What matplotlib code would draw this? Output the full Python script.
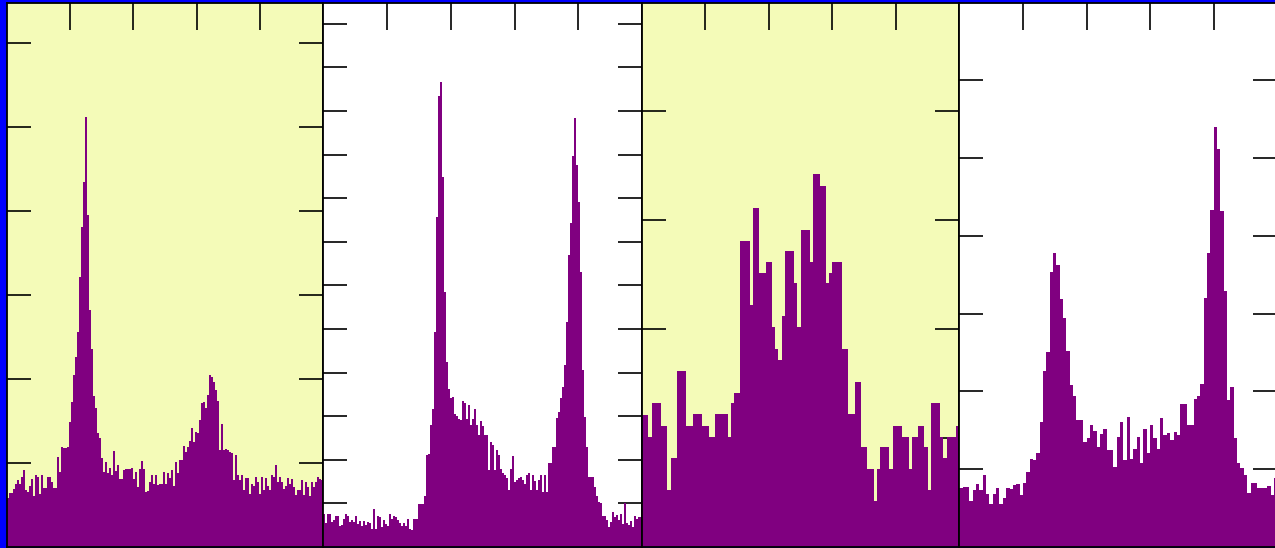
import numpy as np
import matplotlib
matplotlib.use("Agg")
import matplotlib.pyplot as plt

# histogram counts per panel, left to right
counts_a = [
    49, 54, 54, 58, 63, 67, 63, 70, 77, 57,
    55, 61, 68, 51, 72, 70, 53, 72, 59, 59,
    70, 70, 65, 59, 59, 90, 75, 100, 99, 99,
    100, 125, 145, 172, 190, 215, 270, 320, 365, 430,
    332, 237, 198, 151, 139, 114, 109, 89, 75, 85,
    74, 79, 72, 96, 76, 82, 68, 68, 77, 78,
    78, 78, 79, 68, 75, 60, 78, 86, 78, 55,
    56, 65, 72, 63, 72, 62, 63, 63, 75, 63,
    74, 69, 77, 61, 85, 74, 87, 87, 101, 95,
    100, 106, 119, 105, 115, 114, 127, 144, 145, 139,
    152, 172, 170, 165, 157, 146, 97, 123, 97, 98,
    97, 95, 94, 67, 92, 72, 67, 72, 57, 69,
    69, 53, 63, 61, 70, 65, 53, 70, 57, 69,
    61, 57, 72, 70, 82, 65, 70, 65, 58, 61,
    69, 63, 68, 60, 52, 57, 57, 67, 52, 65,
    60, 51, 65, 60, 65, 70, 68, 67,
]

counts_b = [
    33, 24, 33, 33, 25, 27, 31, 31, 21, 22,
    28, 33, 31, 25, 27, 25, 31, 23, 26, 21,
    26, 22, 25, 24, 18, 38, 18, 31, 30, 20,
    27, 23, 21, 33, 28, 31, 30, 27, 24, 21,
    24, 21, 28, 18, 17, 28, 28, 43, 43, 43,
    51, 92, 93, 122, 138,
    215, 330, 451, 465, 370, 255,
    185, 158, 149, 150, 133, 131, 128, 127, 146, 144,
    128, 142, 122, 128, 138, 122, 112, 126, 121, 112,
    112, 77, 105, 102, 77, 97, 92, 78, 74, 72,
    69, 57, 78, 91, 65, 67, 69, 70, 67, 63,
    72, 74, 57, 72, 66, 57, 67, 72, 55, 72,
    55, 84, 84, 100, 100, 129, 135, 149, 160,
    182, 225, 292, 324, 391, 429, 382, 345, 275, 177,
    130, 100, 70, 70, 70, 60, 51, 45, 44, 31,
    31, 27, 20, 25, 35, 30, 32, 27, 33, 23,
    44, 24, 22, 26, 20, 31, 28, 30, 30,
]

counts_c = [
    132, 132, 110, 144, 144, 144, 121, 121, 57, 89,
    89, 176, 176, 176, 121, 121, 133, 133, 133, 121,
    121, 110, 110, 133, 133, 133, 133, 110, 144, 154,
    154, 306, 306, 306, 242, 339, 339, 274, 274, 285,
    285, 220, 198, 187, 231, 296, 296, 296, 264, 220,
    317, 317, 317, 285, 373, 373, 361, 361, 264, 274,
    285, 285, 285, 198, 198, 133, 133, 165, 165, 100,
    100, 78, 78, 46, 78, 100, 100, 100, 78, 121,
    121, 121, 110, 110, 78, 110, 110, 121, 121, 100,
    57, 144, 144, 144, 110, 89, 110, 110, 110, 121,
]

counts_d = [
    59, 60, 60, 46, 57, 63, 57, 72, 53, 43,
    53, 59, 43, 49, 59, 58, 62, 63, 52, 64,
    75, 88, 87, 94, 125, 176, 195, 275, 294, 282,
    248, 229, 196, 162, 151, 127, 127, 105, 109, 122,
    116, 100, 113, 118, 97, 97, 80, 110, 125, 87,
    130, 88, 98, 110, 84, 118, 94, 122, 109, 98,
    129, 112, 114, 107, 115, 112, 143, 143, 122, 122,
    148, 151, 163, 249, 294, 337, 420, 398, 336, 256,
    147, 160, 109, 84, 79, 72, 54, 64, 64, 59,
    59, 59, 61, 52, 69,
]

all_counts = [counts_a, counts_b, counts_c, counts_d]
tick_steps = [84, 43.6, 109, 77.8]
x_ticks = [50, 100, 150, 200]

PURPLE = "#800080"
YELLOW = "#f4fbb8"
BLUE = "#0000ff"
faces = [YELLOW, "white", YELLOW, "white"]

W, H = 1275, 548
fig = plt.figure(figsize=(W / 100, H / 100), dpi=100, facecolor=BLUE)

# panel extents in pixels (left, width); bottom at 1px, top spine ~2.5px from the top
panels = [(6.7, 316.6), (323.3, 318.7), (642.0, 317.3), (959.3, 318.0)]
y_bot, y_top = 1.0, 545.5
ymax = y_top - y_bot

for (left, width), counts, step, face in zip(panels, all_counts, tick_steps, faces):
    ax = fig.add_axes([left / W, y_bot / H, width / W, (y_top - y_bot) / H])
    ax.set_facecolor(face)
    edges = np.linspace(0, 250, len(counts) + 1)
    ax.stairs(counts, edges, fill=True, color=PURPLE, linewidth=0, zorder=3)
    ax.set_xlim(0, 250)
    ax.set_ylim(0, ymax)
    ax.set_xticks(x_ticks)
    ax.set_yticks(np.arange(step, ymax - 5, step))
    ax.tick_params(direction="in", top=True, bottom=False, left=True, right=True,
                   labeltop=False, labelbottom=False, labelleft=False, labelright=False,
                   width=1.2, color="black")
    ax.tick_params(axis="x", length=19.5)
    ax.tick_params(axis="y", length=17.5)
    for sp in ax.spines.values():
        sp.set_linewidth(1.3)
        sp.set_color("black")
        sp.set_zorder(4)

fig.savefig("out.png", dpi=100, facecolor=BLUE)
